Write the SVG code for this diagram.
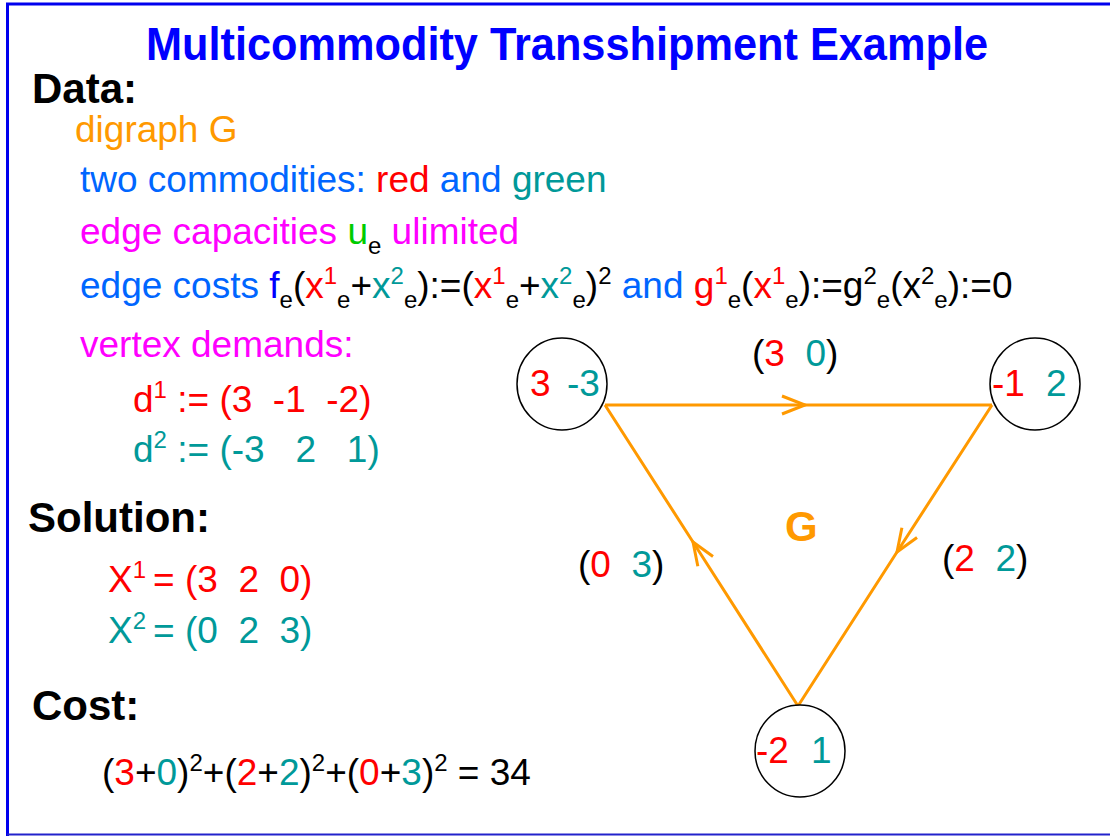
<svg xmlns="http://www.w3.org/2000/svg" width="1110" height="836" viewBox="0 0 1110 836">
<style>
text{font-family:"Liberation Sans",Arial,sans-serif;font-size:37px;white-space:pre;fill:#000}
.b{font-weight:bold;font-size:42px}
.r{fill:#FF0000}.t{fill:#009999}.bl{fill:#0066FF}.f{fill:#0000FF}.o{fill:#FF9900}.m{fill:#FF00FF}.g{fill:#00CC00}
.sup{font-size:24px}
.node{fill:#fff;stroke:#000;stroke-width:1.5}
.edge{fill:none;stroke:#FF9900;stroke-width:3}
</style>
<defs>
<marker id="chev" markerUnits="userSpaceOnUse" markerWidth="40" markerHeight="40" viewBox="-30 -20 40 40" refX="0" refY="0" orient="auto" overflow="visible">
<path d="M-23,-9 L0,0 L-23,9" fill="none" stroke="#FF9900" stroke-width="3"/>
</marker>
</defs>
<rect x="0" y="0" width="1110" height="836" fill="#fff"/>
<path d="M7.5,836 V4 H1110" fill="none" stroke="#0000EE" stroke-width="3"/>
<line x1="7" y1="834.5" x2="1110" y2="834.5" stroke="#2222CC" stroke-width="2"/>
<text x="146" y="60" class="b" textLength="842" lengthAdjust="spacingAndGlyphs" style="fill:#0000FF;font-size:46px">Multicommodity Transshipment Example</text>

<g id="data-text">
<text x="32" y="103" class="b">Data:</text>
<text x="75" y="142" class="o">digraph G</text>
<text x="80" y="192"><tspan class="bl">two commodities: </tspan><tspan class="r">red</tspan><tspan class="bl"> and </tspan><tspan class="t">green</tspan></text>
<text x="80" y="244"><tspan class="m">edge capacities </tspan><tspan class="g">u</tspan><tspan class="sup" dy="10">e</tspan><tspan class="m" dy="-10"> ulimited</tspan></text>
<text x="80" y="298"><tspan class="bl">edge costs </tspan><tspan class="f">f</tspan><tspan class="sup" dy="10">e</tspan><tspan dy="-10">(</tspan><tspan class="r">x</tspan><tspan class="r sup" dy="-14">1</tspan><tspan class="sup" dy="24">e</tspan><tspan dy="-10">+</tspan><tspan class="t">x</tspan><tspan class="t sup" dy="-14">2</tspan><tspan class="sup" dy="24">e</tspan><tspan dy="-10">):=(</tspan><tspan class="r">x</tspan><tspan class="r sup" dy="-14">1</tspan><tspan class="sup" dy="24">e</tspan><tspan dy="-10">+</tspan><tspan class="t">x</tspan><tspan class="t sup" dy="-14">2</tspan><tspan class="sup" dy="24">e</tspan><tspan dy="-10">)</tspan><tspan class="sup" dy="-14">2</tspan><tspan class="bl" dy="14"> and </tspan><tspan class="r">g</tspan><tspan class="r sup" dy="-14">1</tspan><tspan class="sup" dy="24">e</tspan><tspan dy="-10">(</tspan><tspan class="r">x</tspan><tspan class="r sup" dy="-14">1</tspan><tspan class="sup" dy="24">e</tspan><tspan dy="-10">):=g</tspan><tspan class="sup" dy="-14">2</tspan><tspan class="sup" dy="24">e</tspan><tspan dy="-10">(x</tspan><tspan class="sup" dy="-14">2</tspan><tspan class="sup" dy="24">e</tspan><tspan dy="-10">):=0</tspan></text>
<text x="80" y="357" class="m">vertex demands:</text>
<text x="133" y="412" class="r">d<tspan class="sup" dy="-14">1</tspan><tspan dy="14"> := (3  -1  -2)</tspan></text>
<text x="133" y="462" class="t">d<tspan class="sup" dy="-14">2</tspan><tspan dy="14"> := (-3   2   1)</tspan></text>
</g>

<g id="solution-text">
<text x="28" y="532" class="b">Solution:</text>
<text x="108" y="592" class="r">X<tspan class="sup" dy="-14">1</tspan><tspan dy="14" dx="7">= (3  2  0)</tspan></text>
<text x="108" y="643" class="t">X<tspan class="sup" dy="-14">2</tspan><tspan dy="14" dx="7">= (0  2  3)</tspan></text>
</g>

<g id="cost-text">
<text x="32" y="720" class="b">Cost:</text>
<text x="102" y="785">(<tspan class="r">3</tspan>+<tspan class="t">0</tspan>)<tspan class="sup" dy="-14">2</tspan><tspan dy="14">+(</tspan><tspan class="r">2</tspan>+<tspan class="t">2</tspan>)<tspan class="sup" dy="-14">2</tspan><tspan dy="14">+(</tspan><tspan class="r">0</tspan>+<tspan class="t">3</tspan>)<tspan class="sup" dy="-14">2</tspan><tspan dy="14"> = 34</tspan></text>
</g>

<g id="connectors">
<path class="edge" d="M605,405 L805,405 L992,405" marker-mid="url(#chev)"/>
<path class="edge" d="M992,405 L897,552 L798,706" marker-mid="url(#chev)"/>
<path class="edge" d="M798,706 L693,542 L605,405" marker-mid="url(#chev)"/>
<text x="752" y="366">(<tspan class="r">3</tspan>  <tspan class="t">0</tspan>)</text>
<text x="942" y="571">(<tspan class="r">2</tspan>  <tspan class="t">2</tspan>)</text>
<text x="578" y="577">(<tspan class="r">0</tspan>  <tspan class="t">3</tspan>)</text>
</g>

<g id="node1">
<ellipse class="node" cx="562" cy="384" rx="45" ry="46"/>
<text x="530" y="396" class="r">3</text>
<text x="567" y="396" class="t">-3</text>
</g>
<g id="node2">
<ellipse class="node" cx="1035" cy="384" rx="45" ry="46"/>
<text x="992" y="396" class="r">-1</text>
<text x="1046" y="396" class="t">2</text>
</g>
<g id="node3">
<ellipse class="node" cx="800" cy="751" rx="45" ry="46"/>
<text x="756" y="763" class="r">-2</text>
<text x="811" y="763" class="t">1</text>
</g>
<g id="label-G">
<text x="785" y="541" class="b o" style="font-size:42px">G</text>
</g>
</svg>
